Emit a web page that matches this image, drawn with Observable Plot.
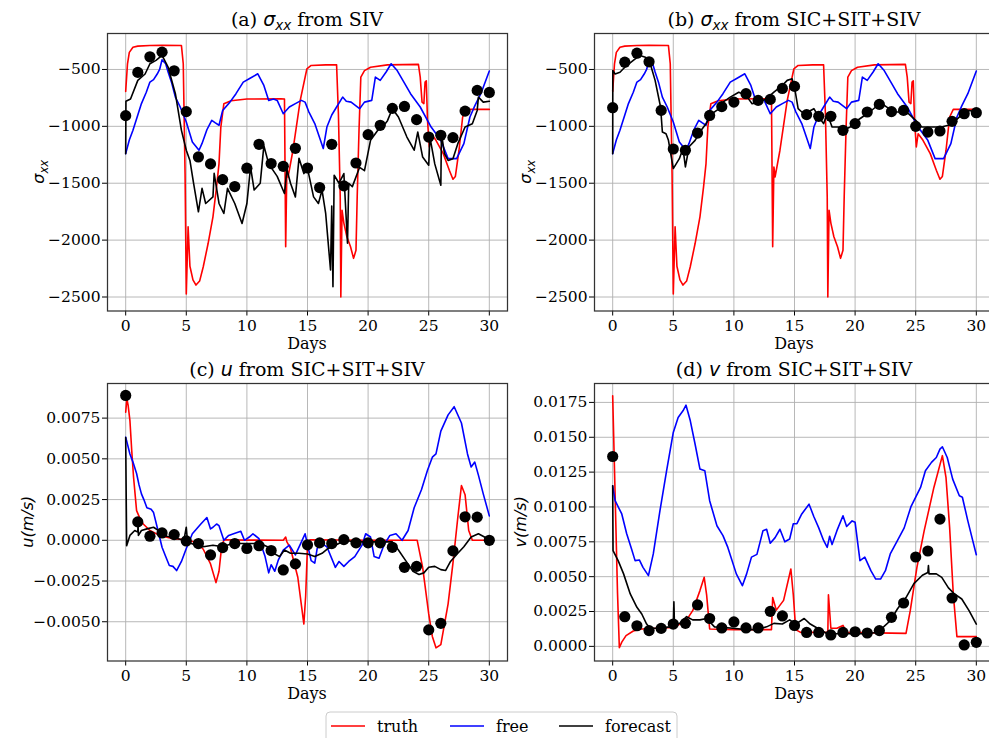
<!DOCTYPE html>
<html>
<head>
<meta charset="utf-8">
<script src="https://cdn.jsdelivr.net/npm/d3@7"></script>
<script src="https://cdn.jsdelivr.net/npm/@observablehq/plot@0.6"></script>
<style>
  html, body { margin: 0; padding: 0; background: #fff; overflow: hidden; }
  #root { position: relative; width: 989px; height: 738px; overflow: hidden; background: #fff; }
  #root svg { position: absolute; }
</style>
</head>
<body>
<div id="root"></div>
<script>
// ---------------- data ----------------
const obsDays = [0,1,2,3,4,5,6,7,8,9,10,11,12,13,14,15,16,17,18,19,20,21,22,23,24,25,26,27,28,29,30];
const xTicks = [0,5,10,15,20,25,30];
const sxxTicks = [-2500,-2000,-1500,-1000,-500];
const uTicks = [-0.005,-0.0025,0,0.0025,0.005,0.0075];
const vTicks = [0,0.0025,0.005,0.0075,0.01,0.0125,0.015,0.0175];

// sigma_xx truth (same in a and b)
const truthSxx = [[0,-693],[0.15,-450],[0.3,-350],[0.6,-305],[1,-295],[2,-290],[3,-288],[4.6,-290],[4.75,-450],[4.9,-1420],[5.0,-2474],[5.07,-2200],[5.15,-1883],[5.3,-2230],[5.55,-2350],[5.8,-2395],[6.1,-2360],[6.4,-2234],[6.8,-2030],[7.2,-1795],[7.5,-1530],[7.7,-1327],[7.85,-1006],[8.1,-801],[8.7,-775],[10,-760],[12.8,-757],[13.1,-760],[13.2,-2058],[13.3,-1357],[13.4,-1444],[13.8,-1210],[14.4,-772],[14.95,-494],[15.3,-465],[16.5,-460],[17.4,-460],[17.55,-889],[17.7,-1620],[17.75,-2500],[17.85,-1737],[18,-1850],[18.25,-1970],[18.55,-2058],[18.8,-2160],[19,-2090],[19.1,-1620],[19.25,-1035],[19.4,-567],[19.7,-510],[20.2,-480],[21.6,-460],[24.15,-455],[24.3,-567],[24.45,-787],[24.6,-800],[24.7,-610],[24.8,-600],[24.9,-947],[25.05,-1181],[25.2,-1065],[25.6,-1123],[26.2,-1240],[26.7,-1386],[27,-1465],[27.2,-1440],[27.5,-1210],[27.8,-918],[28.1,-851],[30,-851]];

// sigma_xx free run (same in a and b)
const freeSxx = [[0,-1240],[0.3,-1120],[0.6,-1035],[1.0,-900],[1.3,-800],[1.7,-700],[2.0,-611],[2.3,-590],[2.6,-540],[2.8,-500],[3.0,-415],[3.3,-450],[3.5,-523],[3.8,-620],[4.1,-743],[4.5,-830],[5.0,-962],[5.5,-1137],[6.05,-1210],[6.3,-1150],[6.7,-1030],[7.1,-947],[7.4,-970],[7.7,-990],[8.0,-860],[8.6,-787],[9.1,-713],[9.7,-611],[10.3,-575],[10.9,-538],[11.4,-640],[11.8,-772],[12.2,-760],[12.5,-772],[13,-889],[13.5,-830],[14,-800],[14.5,-772],[14.8,-787],[15.1,-870],[15.6,-976],[16.0,-1100],[16.3,-1195],[16.6,-1006],[17.0,-900],[17.4,-830],[17.9,-743],[18.2,-780],[18.6,-787],[19.0,-820],[19.3,-845],[19.7,-787],[20.3,-772],[20.6,-567],[21.0,-596],[21.5,-520],[21.9,-450],[22.4,-510],[23.0,-620],[23.5,-713],[24.3,-830],[25.2,-1006],[26,-1123],[26.6,-1284],[27.3,-1284],[27.9,-1152],[28.4,-918],[28.8,-820],[29.3,-713],[30,-514]];

// (a) forecast from SIV
const forecastSxxA = [[0,-1240],[0.02,-780],[0.4,-760],[1.0,-596],[1.6,-540],[2.0,-450],[2.5,-420],[3.0,-377],[3.5,-480],[4.1,-713],[4.6,-1035],[5.0,-1210],[5.3,-1300],[5.6,-1500],[6.0,-1751],[6.3,-1545],[6.6,-1678],[7.2,-1620],[7.3,-1413],[7.7,-1678],[8.1,-1766],[8.4,-1545],[9.0,-1678],[9.6,-1854],[10.0,-1678],[10.3,-1357],[10.6,-1560],[11.1,-1500],[11.4,-1170],[11.8,-1330],[12.5,-1440],[13.1,-1590],[13.3,-1380],[13.6,-1500],[14.0,-1620],[14.3,-1280],[14.7,-1415],[15,-1370],[15.5,-1620],[15.9,-1678],[16.2,-1560],[16.5,-1766],[16.9,-2263],[17.0,-1700],[17.1,-2410],[17.2,-1430],[17.6,-1500],[18.0,-1415],[18.3,-2028],[18.4,-1500],[18.7,-1530],[19.3,-1360],[19.7,-1390],[20.2,-1123],[20.8,-1035],[21.2,-1006],[21.6,-950],[22,-845],[22.5,-918],[23.2,-1094],[23.8,-1210],[24.1,-1050],[24.5,-1270],[25.0,-1342],[25.1,-1094],[25.5,-1330],[26.0,-1518],[26.05,-1065],[26.3,-1240],[26.6,-1300],[27,-1284],[27.4,-1152],[28,-1006],[28.6,-977],[29,-860],[29.1,-743],[29.5,-787],[30,-780]];
const obsSxxA = [-906,-526,-389,-348,-512,-871,-1269,-1330,-1468,-1529,-1368,-1158,-1327,-1351,-1193,-1366,-1538,-1158,-1523,-1322,-1073,-991,-842,-825,-941,-1094,-1079,-1099,-866,-684,-702];

// (b) forecast from SIC+SIT+SIV
const forecastSxxB = [[0,-1240],[0.01,-509],[0.2,-540],[0.6,-525],[1.0,-480],[1.7,-421],[2.25,-377],[2.7,-392],[3.1,-450],[3.5,-596],[3.95,-830],[4.1,-1050],[4.4,-1065],[4.6,-1123],[5.0,-1371],[5.5,-1284],[5.8,-1195],[6.0,-1357],[6.3,-1180],[6.8,-1123],[7.3,-1035],[7.7,-977],[8.2,-889],[8.7,-850],[9.1,-787],[9.7,-743],[10.4,-700],[11,-728],[11.5,-801],[12.1,-787],[12.7,-757],[13.3,-700],[14,-640],[14.4,-596],[14.8,-582],[15.0,-655],[15.3,-845],[15.6,-874],[16.1,-874],[16.6,-845],[17.0,-918],[17.4,-976],[17.7,-889],[18.1,-1006],[18.6,-1006],[19.0,-1035],[19.6,-1006],[20,-962],[20.6,-918],[21.2,-874],[21.7,-830],[22.2,-801],[22.8,-845],[23.3,-874],[23.8,-874],[24.4,-889],[25,-947],[25.5,-1006],[26.3,-1006],[27.1,-1006],[27.7,-991],[28.3,-947],[28.9,-889],[29.4,-860],[30,-874]];
const obsSxxB = [-836,-436,-357,-433,-860,-1199,-1210,-1059,-904,-827,-787,-713,-772,-763,-667,-649,-897,-912,-912,-1035,-976,-874,-807,-871,-860,-1000,-1050,-1041,-956,-889,-880];

// (c) u
const truthU = [[0,0.00786],[0.1,0.00868],[0.2,0.0083],[0.35,0.00735],[0.5,0.0055],[0.65,0.00387],[0.9,0.00182],[1.2,0.0013],[1.45,0.001],[2.0,0.0006],[2.8,0.0003],[3.9,0.0001],[5,0.00003],[5.9,-0.00015],[6.4,-0.00055],[7.0,-0.00145],[7.45,-0.0026],[7.7,-0.0019],[7.9,-0.0005],[8.1,0.00003],[10,0.00001],[13,0.0],[13.2,0.0002],[13.3,-0.0001],[13.6,-0.0005],[14.2,-0.00227],[14.5,-0.004],[14.7,-0.00514],[14.85,-0.0034],[15.0,-0.0003],[15.2,0.00003],[20,0],[24.05,0],[24.5,-0.00166],[25.0,-0.00452],[25.3,-0.0059],[25.6,-0.0066],[26.0,-0.0064],[26.6,-0.0039],[27,-0.0014],[27.4,0.0014],[27.7,0.00336],[28,0.0028],[28.3,0.0006],[28.6,0],[30,0]];
const freeU = [[0,0.00633],[0.35,0.0053],[0.6,0.0048],[0.9,0.0041],[1.1,0.0034],[1.3,0.00285],[1.5,0.0025],[1.75,0.002],[2.1,0.0019],[2.3,0.0017],[2.6,0.0008],[3.0,-0.00043],[3.3,-0.001],[3.6,-0.00155],[3.9,-0.0016],[4.2,-0.00186],[4.6,-0.0013],[5,-0.0005],[5.5,0.0004],[6.2,0.001],[6.7,0.0014],[7.0,0.0007],[7.2,0.0008],[7.5,0.001],[7.7,0.0009],[8.1,0.0],[8.5,0.0003],[8.9,0.0004],[9.5,0.00055],[9.8,0],[10.2,0.0002],[10.5,0.0004],[11.0,0.0001],[11.5,-0.001],[11.8,-0.002],[12.0,-0.0015],[12.3,-0.0019],[12.6,-0.0012],[13,-0.0006],[13.5,-0.0003],[14,-0.0009],[14.5,-0.0001],[14.8,0.0004],[15.3,-0.00125],[15.6,-0.0014],[15.8,-0.0005],[16.2,-0.0002],[16.6,-0.0004],[17.3,-0.00166],[17.6,-0.0013],[18,-0.0016],[18.4,-0.0013],[18.9,-0.001],[19.5,-0.0003],[19.8,0.0004],[20.2,0.0002],[20.5,-0.001],[20.9,-0.0011],[21.3,-0.0003],[21.8,0.0003],[22.3,0.0004],[22.8,0.0],[23.3,0.0006],[23.8,0.002],[24.4,0.0031],[24.9,0.0043],[25.3,0.0051],[25.6,0.0053],[26.0,0.0067],[26.6,0.0077],[27.1,0.0082],[27.7,0.0072],[28.2,0.0053],[28.5,0.0045],[28.8,0.0048],[29.1,0.004],[29.5,0.00285],[30,0.0015]];
const forecastU = [[0,0.0063],[0.08,-0.00033],[0.35,0.0003],[0.75,0.0006],[1.0,0.0005],[1.02,0.0011],[1.05,0.0003],[1.3,0.0006],[1.75,0.0007],[2.3,0.0008],[2.9,0.0005],[3.4,0.00025],[4.0,0.00015],[4.8,0.0],[5.0,0.0008],[5.1,-0.0001],[5.8,-0.0003],[6.4,-0.0004],[7.2,-0.0003],[8,-0.0004],[8.8,-0.0002],[10,-0.0002],[11.1,-0.0002],[11.7,-0.0004],[12.2,-0.0008],[12.7,-0.001],[13.1,-0.0006],[13.6,-0.0008],[14.3,-0.0008],[15,-0.00084],[15.6,-0.001],[16.2,-0.0008],[16.7,-0.0005],[17.3,-0.0003],[18.1,0.0],[18.9,-0.0001],[20,-0.0001],[21.1,-0.0001],[22,-0.0001],[22.5,-0.0006],[23.1,-0.00125],[23.7,-0.0019],[24.2,-0.0021],[24.6,-0.002],[25,-0.00166],[25.5,-0.0016],[26,-0.0018],[26.4,-0.00185],[26.8,-0.0013],[27.4,-0.0008],[27.9,-0.0004],[28.5,0.0002],[29.1,0.0004],[29.6,0.0002],[30,0]];
const obsU = [0.00889,0.00113,0.00025,0.00045,0.00035,-0.00004,-0.0002,-0.0009,-0.00045,-0.0002,-0.0005,-0.00033,-0.00063,-0.00182,-0.00145,-0.00028,-0.00016,-0.0002,0.00004,-0.00016,-0.00016,-0.00016,-0.00043,-0.00166,-0.0016,-0.0055,-0.0051,-0.00065,0.00144,0.00142,0];

// (d) v
const truthV = [[0,0.01797],[0.2,0.0109],[0.4,0.0038],[0.55,-0.0001],[0.75,0.0003],[1.1,0.00077],[1.7,0.0011],[2.4,0.00125],[5,0.00135],[5.55,0.0016],[6.1,0.0019],[6.6,0.00256],[7.2,0.004],[7.55,0.00495],[7.75,0.0037],[8.0,0.00125],[10,0.0012],[13.1,0.0012],[13.2,0.0035],[13.5,0.0026],[14.1,0.0033],[14.7,0.00555],[14.9,0.0037],[15.1,0.0012],[15.5,0.001],[17.75,0.001],[17.8,0.0037],[18.0,0.0013],[18.5,0.0013],[19.0,0.0015],[19.3,0.001],[24.2,0.00093],[24.55,0.00256],[25.1,0.00567],[25.7,0.0083],[26.5,0.0114],[27.2,0.01368],[27.5,0.0121],[27.8,0.0085],[28.1,0.00376],[28.4,0.0007],[30,0.0007]];
const freeV = [[0,0.01152],[0.2,0.01045],[0.75,0.0095],[1.15,0.0081],[1.55,0.007],[1.85,0.00615],[2.2,0.0062],[2.5,0.00567],[2.95,0.00507],[3.35,0.00663],[3.9,0.00973],[4.45,0.0126],[5.0,0.01535],[5.4,0.01642],[5.8,0.0169],[6.05,0.0173],[6.4,0.0162],[6.8,0.0145],[7.2,0.01272],[7.6,0.0126],[8.0,0.01045],[8.6,0.00865],[9.1,0.00794],[9.5,0.0071],[10.2,0.0052],[10.7,0.00435],[11.05,0.0052],[11.45,0.0064],[11.9,0.0066],[12.4,0.0083],[12.7,0.0084],[13,0.0074],[13.4,0.0078],[13.8,0.0084],[14.2,0.0075],[14.6,0.0077],[14.9,0.0088],[15.2,0.0088],[15.6,0.0095],[16.2,0.0102],[16.6,0.0093],[17.0,0.0085],[17.4,0.0076],[17.7,0.0071],[17.9,0.0079],[18.1,0.0073],[18.5,0.0083],[19,0.00937],[19.3,0.0086],[19.75,0.009],[20.0,0.0089],[20.4,0.00615],[20.8,0.0064],[21.3,0.00543],[21.7,0.00483],[22.1,0.00483],[22.5,0.00543],[22.9,0.00663],[23.5,0.0076],[24.05,0.0085],[24.6,0.01],[25,0.0107],[25.4,0.0114],[25.8,0.0126],[26.3,0.0132],[26.7,0.01355],[27,0.01415],[27.2,0.01432],[27.6,0.01355],[28.05,0.012],[28.6,0.0108],[28.85,0.0107],[29.3,0.009],[29.7,0.0076],[30,0.00657]];
const forecastV = [[0,0.01152],[0.03,0.00686],[0.45,0.00615],[0.9,0.0052],[1.45,0.00376],[2.0,0.0028],[2.4,0.00232],[2.8,0.0016],[3.1,0.0013],[3.9,0.0013],[4.7,0.0014],[5.0,0.0016],[5.05,0.0032],[5.1,0.0015],[5.6,0.0017],[6.1,0.00213],[6.6,0.0019],[7.2,0.0019],[7.75,0.002],[8.4,0.0014],[9.1,0.00136],[9.9,0.0013],[11,0.0012],[11.9,0.0012],[12.7,0.0014],[13.3,0.00165],[14,0.0016],[14.6,0.0019],[15.1,0.0016],[15.8,0.002],[16.3,0.0016],[16.9,0.0013],[17.7,0.0009],[18.5,0.0009],[19.6,0.0009],[20.7,0.0009],[21.8,0.001],[22.35,0.0014],[22.9,0.00184],[23.5,0.0027],[24.2,0.0035],[24.85,0.0045],[25.55,0.0051],[26,0.0053],[26.05,0.0058],[26.1,0.0052],[26.7,0.0052],[27.15,0.00495],[27.7,0.0042],[28.2,0.00376],[28.8,0.0034],[29.4,0.00256],[30,0.0016]];
const obsV = [0.01362,0.00213,0.00148,0.00113,0.00129,0.0016,0.00165,0.00297,0.002,0.00132,0.00175,0.00132,0.00132,0.00251,0.00218,0.0015,0.001,0.001,0.00082,0.001,0.00105,0.00096,0.00113,0.00208,0.00311,0.00641,0.00684,0.00913,0.00347,0.0001,0.00029];

const titles = [
  ["(a) ", "σ", "xx", " from SIV"],
  ["(b) ", "σ", "xx", " from SIC+SIT+SIV"],
  ["(c) ", "u", "", " from SIC+SIT+SIV"],
  ["(d) ", "v", "", " from SIC+SIT+SIV"]
];
const yLabels = [["σ","xx"],["σ","xx"],["u(m/s)",""],["v(m/s)",""]];
const legendLabels = ["truth","free","forecast"];
const legendColors = ["#ff0000","#0000ff","#000000"];

// ---------------- drawing ----------------
const root = document.getElementById("root");
const W = 512, H = 355, ML = 107, MR = 5, MT = 33, MB = 44.5;
const fmt4 = d3.format(".4f");
const fmtInt = d3.format("d");

function panel(p) {
  const chart = Plot.plot({
    width: W, height: H,
    marginLeft: ML, marginRight: MR, marginTop: MT, marginBottom: MB,
    style: { fontFamily: "DejaVu Serif", fontSize: "15.5px", background: "transparent", color: "#000", overflow: "visible" },
    x: { domain: [-1.5, 31.5], ticks: xTicks, tickSize: 5, tickPadding: 3.5, tickFormat: fmtInt, label: null },
    y: { domain: p.yDomain, ticks: p.yTicks, tickSize: 5, tickPadding: 2, tickFormat: p.yFormat, label: null },
    marks: [
      Plot.gridX(xTicks, { stroke: "#b0b0b0", strokeOpacity: 1, strokeWidth: 0.9 }),
      Plot.gridY(p.yTicks, { stroke: "#b0b0b0", strokeOpacity: 1, strokeWidth: 0.9 }),
      Plot.line(p.truth, { x: d => d[0], y: d => d[1], stroke: legendColors[0], strokeWidth: 1.6 }),
      Plot.line(p.free, { x: d => d[0], y: d => d[1], stroke: legendColors[1], strokeWidth: 1.6 }),
      Plot.line(p.forecast, { x: d => d[0], y: d => d[1], stroke: legendColors[2], strokeWidth: 1.6 }),
      Plot.dot(obsDays, { x: d => d, y: (d, i) => p.obs[i], r: 5.6, fill: "#000", stroke: "none" }),
      Plot.frame({ stroke: "#333", strokeWidth: 1.25 })
    ]
  });
  chart.style.left = p.left + "px";
  chart.style.top = p.top + "px";
  const svg = d3.select(chart);
  // title
  const t = p.title;
  const tt = svg.append("text")
    .attr("x", ML + (W - ML - MR) / 2).attr("y", MT - 7)
    .attr("text-anchor", "middle")
    .attr("font-family", "DejaVu Serif").attr("font-size", 19).attr("fill", "#000");
  tt.append("tspan").text(t[0]);
  tt.append("tspan").attr("font-family", "DejaVu Sans").attr("font-style", "italic").text(t[1]);
  if (t[2]) {
    tt.append("tspan").attr("font-family", "DejaVu Sans").attr("font-style", "italic")
      .attr("font-size", 13.5).attr("dy", 4).text(t[2]);
    tt.append("tspan").attr("dy", -4).text(t[3]);
  } else {
    tt.append("tspan").text(t[3]);
  }
  // x label
  svg.append("text")
    .attr("x", ML + (W - ML - MR) / 2).attr("y", 349)
    .attr("text-anchor", "middle")
    .attr("font-family", "DejaVu Serif").attr("font-size", 16).attr("fill", "#000")
    .text("Days");
  // y label
  const yl = svg.append("text")
    .attr("transform", `translate(${p.yLabelX},${MT + (H - MT - MB) / 2}) rotate(-90)`)
    .attr("text-anchor", "middle")
    .attr("font-family", "DejaVu Sans").attr("font-style", "italic")
    .attr("font-size", 16).attr("fill", "#000");
  yl.append("tspan").text(p.yLabel[0]);
  if (p.yLabel[1]) yl.append("tspan").attr("font-size", 11.5).attr("dy", 4).text(p.yLabel[1]);
  root.appendChild(chart);
}

panel({ left: 0, top: 0, truth: truthSxx, free: freeSxx, forecast: forecastSxxA, obs: obsSxxA,
  yDomain: [-2623, -184], yTicks: sxxTicks, yFormat: fmtInt, title: titles[0], yLabel: yLabels[0], yLabelX: 44 });
panel({ left: 487, top: 0, truth: truthSxx, free: freeSxx, forecast: forecastSxxB, obs: obsSxxB,
  yDomain: [-2623, -184], yTicks: sxxTicks, yFormat: fmtInt, title: titles[1], yLabel: yLabels[1], yLabelX: 44 });
panel({ left: 0, top: 350, truth: truthU, free: freeU, forecast: forecastU, obs: obsU,
  yDomain: [-0.00741, 0.009625], yTicks: uTicks, yFormat: fmt4, title: titles[2], yLabel: yLabels[2], yLabelX: 33 });
panel({ left: 487, top: 350, truth: truthV, free: freeV, forecast: forecastV, obs: obsV,
  yDomain: [-0.00105, 0.018857], yTicks: vTicks, yFormat: fmt4, title: titles[3], yLabel: yLabels[3], yLabelX: 39 });

// legend
const lg = d3.select(root).append("svg")
  .attr("width", 354).attr("height", 40)
  .style("left", "325px").style("top", "711px");
lg.append("rect").attr("x", 1).attr("y", 1).attr("width", 351).attr("height", 44).attr("rx", 4)
  .attr("fill", "#fff").attr("stroke", "#cccccc").attr("stroke-width", 1);
const itemX = [6, 125, 234];
legendLabels.forEach((lab, i) => {
  lg.append("line").attr("x1", itemX[i]).attr("x2", itemX[i] + 34).attr("y1", 15).attr("y2", 15)
    .attr("stroke", legendColors[i]).attr("stroke-width", 1.6);
  lg.append("text").attr("x", itemX[i] + 46).attr("y", 20.5)
    .attr("font-family", "DejaVu Serif").attr("font-size", 16).attr("fill", "#000").text(lab);
});
</script>
</body>
</html>
